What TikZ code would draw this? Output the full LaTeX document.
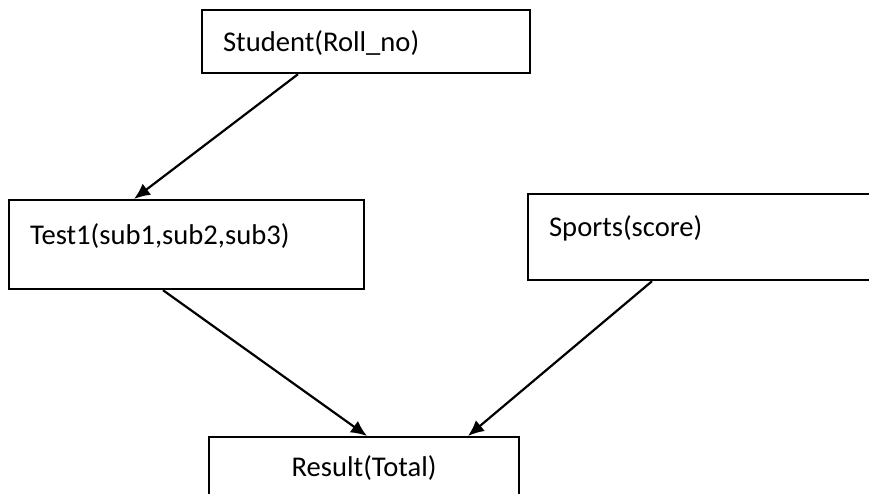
\documentclass[tikz,border=0pt]{standalone}
\usepackage{fontspec}
\usepackage{tikz}
\usetikzlibrary{arrows.meta,calc}
\newfontfamily\entityfont{Carlito}
\tikzset{>={Latex[length=16pt,width=14pt]}}
\tikzset{
	entity/.style={
			draw, line width=2.2pt, inner xsep=21pt, inner ysep=0pt,
			anchor=north west, align=left,
			font=\entityfont\fontsize{28.6}{34}\selectfont
		},
	link/.style={->, line width=2.2pt}
}

\begin{document}
\begin{tikzpicture}[x=1pt, y=-1pt]
	\clip (0,0) rectangle (869,493);

	\node[entity, text width=286pt, text height=41pt, text depth=22pt] (student) at (201,9) {Student(Roll\_no)};
	\node[entity, text width=313pt, text height=44pt, text depth=45pt] (test) at (8,199) {Test1(sub1,sub2,sub3)};
	\node[entity, text width=318pt, text height=42pt, text depth=44pt] (sports) at (527,193) {Sports(score)};
	\node[entity, align=center, text width=268pt, text height=39pt, text depth=31pt] (result) at (208,436) {Result(Total)};

	\draw[link] ($(student.south west)+(97,0)$) -- ($(test.north west)+(126,0)$);
	\draw[link] ($(test.south west)+(155,0)$) -- ($(result.north west)+(159,0)$);
	\draw[link] ($(sports.south west)+(125,0)$) -- ($(result.north west)+(260,0)$);
\end{tikzpicture}
\end{document}
